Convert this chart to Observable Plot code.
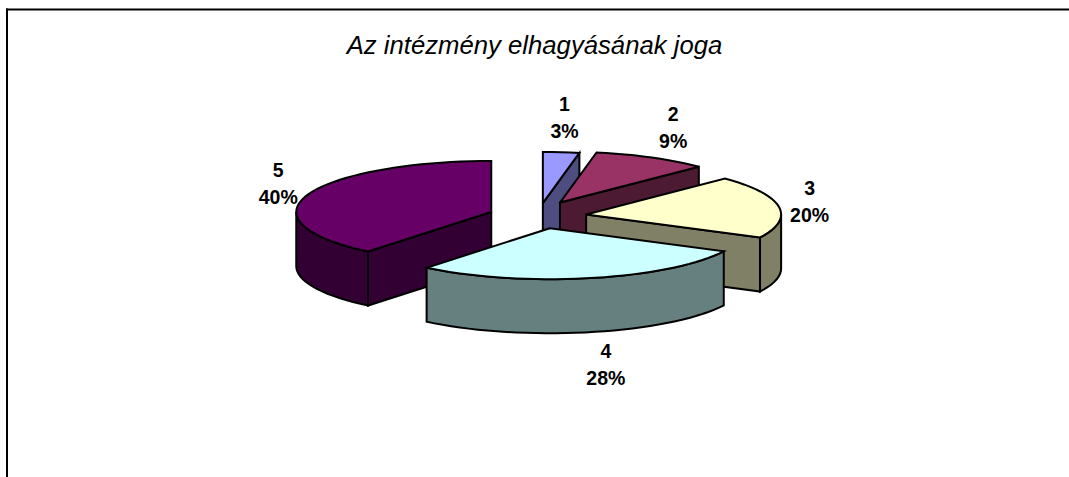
<!DOCTYPE html>
<html>
<head>
<meta charset="utf-8">
<style>html,body{margin:0;padding:0;background:#fff}svg{display:block}</style>
<script src="https://cdn.jsdelivr.net/npm/d3@7"></script>
<script src="https://cdn.jsdelivr.net/npm/@observablehq/plot@0.6"></script>
</head>
<body>
<script>
// Data
const categories = ["1", "2", "3", "4", "5"];
const percents = [3, 9, 20, 28, 40];
const topColors = ["#9999FF", "#993366", "#FFFFCC", "#CCFFFF", "#660066"];
const chartTitle = "Az intézmény elhagyásának joga";

// View of the exploded 3D pie (unit circle coordinates)
const explode = 0.265;
const depth = 1.06;
const boundaryWarp = [0, 0, 2.2, 1.7, 3.2, 0];          // degrees, perspective of the plot area
const apexNudge = [[-0.018, 0], [-0.03, -0.04], [-0.033, 0], [-0.012, -0.03], [-0.008, 0]];
const labelSpots = [[0.118, -1.97], [0.675, -1.78], [1.375, -0.33], [0.33, 2.87], [-1.35, -0.67]];
const drawOrder = [0, 1, 4, 2, 3];

const rad = d => d * Math.PI / 180;
const cum = d3.cumsum(percents);
const bounds = [0, ...cum].map((c, i) => c * 3.6 + boundaryWarp[i]);
const polar = (deg) => [Math.sin(rad(deg)), -Math.cos(rad(deg))];

function arc(a0, a1) {
  const n = Math.max(2, Math.ceil((a1 - a0) / 3));
  return d3.range(n + 1).map(i => polar(a0 + (a1 - a0) * i / n));
}

const facePoints = [];
function addFace(id, fill, pts) {
  [...pts, pts[0]].forEach(([x, y]) => facePoints.push({id, fill, x, y}));
}

drawOrder.forEach(i => {
  const a0 = bounds[i], a1 = bounds[i + 1];
  const [mx, my] = polar((a0 + a1) / 2);
  const ax = explode * mx + apexNudge[i][0];
  const ay = explode * my + apexNudge[i][1];
  const place = ([x, y], d = 0) => [ax + x, ay + y + d];
  const apex = [ax, ay];
  const top = topColors[i];
  const side = d3.rgb(top);
  const dark = d3.rgb(side.r / 2, side.g / 2, side.b / 2).formatHex();
  const radial = deg => {
    const rim = place(polar(deg));
    addFace(`${i}-r${deg}`, dark, [apex, rim, [rim[0], rim[1] + depth], [apex[0], apex[1] + depth]]);
  };
  if (a1 > 0 && a1 < 180) radial(a1);
  if (a0 > 180 && a0 < 360) radial(a0);
  const w0 = Math.max(a0, 90), w1 = Math.min(a1, 270);
  if (w1 > w0) {
    const rim = arc(w0, w1).map(p => place(p));
    const low = rim.map(([x, y]) => [x, y + depth]).reverse();
    addFace(`${i}-wall`, dark, [...rim, ...low]);
  }
  addFace(`${i}-top`, top, [apex, ...arc(a0, a1).map(p => place(p))]);
});

const labels = categories.map((c, i) => ({
  text: `${c}\n${percents[i]}%`, x: labelSpots[i][0], y: labelSpots[i][1]
}));

const cx = 541, cy = 216, rx = 195, ry = 51;

const chart = Plot.plot({
  width: 1069,
  height: 477,
  marginLeft: 6.5,
  marginTop: 9,
  marginRight: 0,
  marginBottom: 0,
  x: {domain: [-1, 1], range: [cx - rx, cx + rx], axis: null},
  y: {domain: [-1, 1], range: [cy - ry, cy + ry], axis: null},
  style: {background: "#fff", fontFamily: "'Liberation Sans', Arial, sans-serif"},
  marks: [
    Plot.frame({anchor: "left", stroke: "#000", strokeWidth: 2}),
    Plot.frame({anchor: "top", stroke: "#000", strokeWidth: 2}),
    Plot.line(facePoints, {
      x: "x", y: "y", z: "id", fill: "fill",
      stroke: "#000", strokeWidth: 2, strokeLinejoin: "miter", strokeMiterlimit: 4
    }),
    Plot.text(labels, {
      x: "x", y: "y", text: "text", fontWeight: "bold", fontSize: 19.5, lineHeight: 1.385,
      fill: "#000", textAnchor: "middle"
    }),
    Plot.text([chartTitle], {
      frameAnchor: "top-left", dx: 527.5, dy: 26, text: d => d, fontStyle: "italic", fontSize: 25.7,
      fill: "#000", textAnchor: "middle"
    })
  ]
});
document.body.appendChild(chart);
</script>
</body>
</html>
